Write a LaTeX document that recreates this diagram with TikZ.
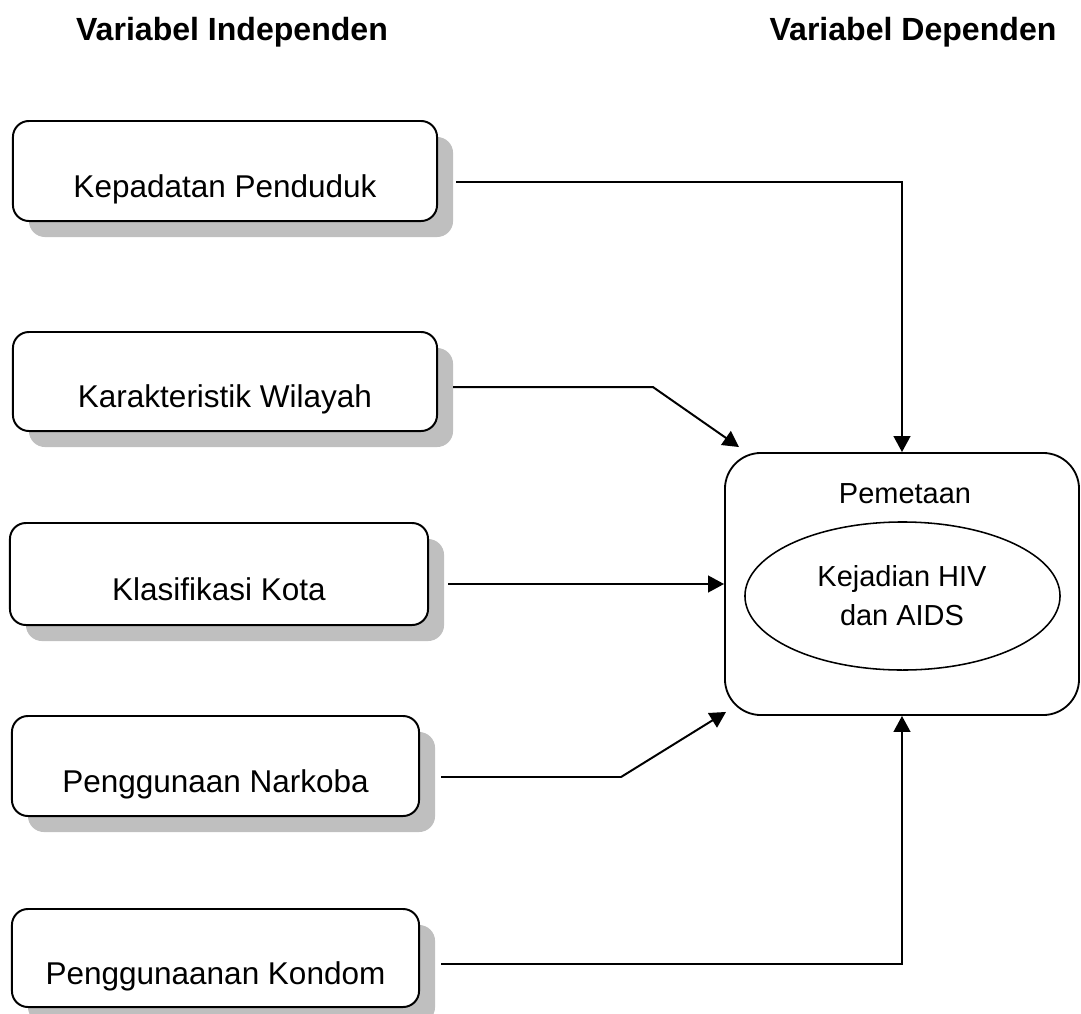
\documentclass[tikz,border=0pt]{standalone}
\usepackage{fontspec}
\setmainfont{Liberation Sans}
\usetikzlibrary{arrows.meta,shapes.geometric,shadows}

\begin{document}
\begin{tikzpicture}[x=0.025cm, y=-0.025cm, >={Triangle[length=0.4cm,width=0.42cm]},
		varbox/.style={draw, line width=1.4pt, rounded corners=0.4cm, fill=white, drop shadow={shadow xshift=0.4cm, shadow yshift=-0.4cm, fill=black!25, opacity=1}},
		varteks/.style={font=\fontsize{22.4}{27}\selectfont, anchor=base, inner sep=0pt},
		judul/.style={font=\fontsize{22.8}{27}\selectfont\bfseries, anchor=base, inner sep=0pt},
		panah/.style={->, line width=1.4pt}]
	\useasboundingbox (0,0) rectangle (1081,1014);
	\node[judul] (judul-in) at (232,40) {Variabel Independen};
	\node[judul] (judul-dep) at (913,40) {Variabel Dependen};
	\foreach \nm / \cx / \cy / \w / \h / \txt in {kepadatan/225/171/10.6/2.5/Kepadatan Penduduk, karakteristik/225/381.5/10.6/2.475/Karakteristik Wilayah, klasifikasi/219/574/10.45/2.55/Klasifikasi Kota, narkoba/215.5/766/10.175/2.5/Penggunaan Narkoba, kondom/215.5/958/10.175/2.45/Penggunaanan Kondom} {
		\node[varbox, minimum width=\w cm, minimum height=\h cm] (\nm) at (\cx,\cy) {};
		\node[varteks] (\nm-teks) at ([yshift=-0.65cm]\nm.center) {\txt};
	}
	\node[draw, line width=1.3pt, rounded corners=0.9cm, minimum width=8.85cm, minimum height=6.55cm] (pemetaan) at (902,584) {};
	\node[font=\fontsize{20.6}{24}\selectfont, anchor=base, inner sep=0pt] (pemetaan-teks) at (905,503) {Pemetaan};
	\node[draw, ellipse, line width=1.1pt, minimum width=7.875cm, minimum height=3.7cm] (kejadian) at (902.5,596) {};
	\node[font=\fontsize{20.6}{27.7}\selectfont, align=center, inner sep=0pt] (kejadian-teks) at (902,596) {Kejadian HIV\\dan AIDS};
	\draw[panah] ([xshift=0.45cm,yshift=-0.275cm]kepadatan.east) -| (pemetaan.north);
	\draw[panah] ([xshift=0.375cm,yshift=-0.14cm]karakteristik.east) -- ++(200,0) -- ([xshift=0.375cm,yshift=0.125cm]pemetaan.north west);
	\draw[panah] ([xshift=0.475cm,yshift=-0.25cm]klasifikasi.east) -- (pemetaan.west);
	\draw[panah] ([xshift=0.525cm,yshift=-0.275cm]narkoba.east) -- ++(180,0) -- ([xshift=0.05cm,yshift=0.1cm]pemetaan.south west);
	\draw[panah] ([xshift=0.525cm,yshift=-0.15cm]kondom.east) -| (pemetaan.south);
\end{tikzpicture}
\end{document}
